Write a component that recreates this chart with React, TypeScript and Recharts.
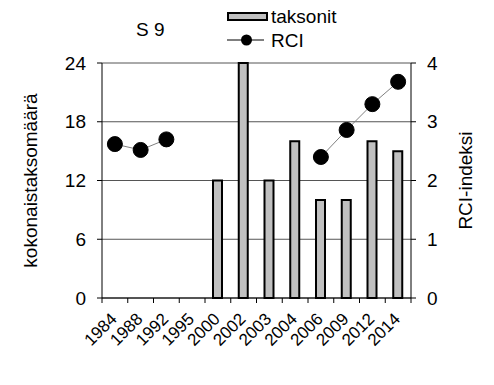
import React from "react";
import {
  ComposedChart,
  Bar,
  Line,
  XAxis,
  YAxis,
  CartesianGrid,
} from "recharts";

const years = ["1984", "1988", "1992", "1995", "2000", "2002", "2003", "2004", "2006", "2009", "2012", "2014"];
const taksonit = [null, null, null, null, 12, 24, 12, 16, 10, 10, 16, 15];
const rci = [2.62, 2.52, 2.7, null, null, null, null, null, 2.4, 2.86, 3.3, 3.68];
const leftTicks = [0, 6, 12, 18, 24];
const rightTicks = [0, 1, 2, 3, 4];

const data = years.map((y, i) => ({ year: y, taksonit: taksonit[i], rci: rci[i] }));

const font = "'Liberation Sans', Arial, sans-serif";

const XTick = (props: any) => {
  const { x, y, payload, index, width, visibleTicksCount } = props;
  const half = width && visibleTicksCount ? width / visibleTicksCount / 2 : 12.875;
  const tx = x + 3;
  const ty = y + 22;
  return (
    <g>
      <line x1={x - half} x2={x - half} y1={y} y2={y + 5} stroke="#000" />
      {index === years.length - 1 && (
        <line x1={x + half} x2={x + half} y1={y} y2={y + 5} stroke="#000" />
      )}
      <text
        x={tx}
        y={ty}
        textAnchor="end"
        fontSize={17}
        fill="#000"
        fontFamily={font}
        transform={`rotate(-45, ${tx}, ${ty})`}
      >
        {payload.value}
      </text>
    </g>
  );
};

const App = () => {
  return (
    <div style={{ position: "absolute", left: 0, top: 0, width: 494, height: 385, background: "#fff", fontFamily: font }}>
      <ComposedChart width={494} height={385} data={data} margin={{ top: 63, right: 0, bottom: 0, left: 0 }}>
        <CartesianGrid vertical={false} stroke="#555" yAxisId="left" />
        <XAxis
          dataKey="year"
          height={87}
          tickSize={0}
          tickMargin={0}
          tickLine={false}
          interval={0}
          stroke="#000"
          tick={<XTick />}
        />
        <YAxis
          yAxisId="left"
          width={102}
          domain={[0, 24]}
          ticks={leftTicks}
          tickSize={5}
          tickMargin={11}
          stroke="#000"
          tick={{ fill: "#000", fontSize: 19, fontFamily: font }}
          label={{
            value: "kokonaistaksomäärä",
            angle: -90,
            position: "insideLeft",
            offset: 30,
            style: { textAnchor: "middle", fill: "#000", fontSize: 19, fontFamily: font },
          }}
        />
        <YAxis
          yAxisId="right"
          orientation="right"
          width={83}
          domain={[0, 4]}
          ticks={rightTicks}
          tickSize={5}
          tickMargin={11}
          stroke="#000"
          tick={{ fill: "#000", fontSize: 19, fontFamily: font }}
          label={{
            value: "RCI-indeksi",
            angle: -90,
            position: "insideRight",
            offset: 29,
            style: { textAnchor: "middle", fill: "#000", fontSize: 19, fontFamily: font },
          }}
        />
        <Bar
          yAxisId="left"
          dataKey="taksonit"
          fill="#c0c0c0"
          stroke="#000"
          strokeWidth={2}
          barSize={9}
          isAnimationActive={false}
        />
        <Line
          yAxisId="right"
          dataKey="rci"
          stroke="#808080"
          strokeWidth={1}
          dot={{ r: 7.5, fill: "#000", stroke: "#000", strokeWidth: 1 }}
          activeDot={false}
          connectNulls={false}
          isAnimationActive={false}
        />
      </ComposedChart>
      <svg width={494} height={60} style={{ position: "absolute", left: 0, top: 0 }}>
        <text x={136} y={36} fontSize={19} fontFamily={font} fill="#000">S 9</text>
        <rect x={228} y={13} width={39} height={7} fill="#c0c0c0" stroke="#000" strokeWidth={2} />
        <text x={271} y={23} fontSize={19} fontFamily={font} fill="#000">taksonit</text>
        <line x1={227} x2={264} y1={40} y2={40} stroke="#000" />
        <circle cx={246.5} cy={40} r={5.5} fill="#000" />
        <text x={271} y={47} fontSize={19} fontFamily={font} fill="#000">RCI</text>
      </svg>
    </div>
  );
};

export default App;
